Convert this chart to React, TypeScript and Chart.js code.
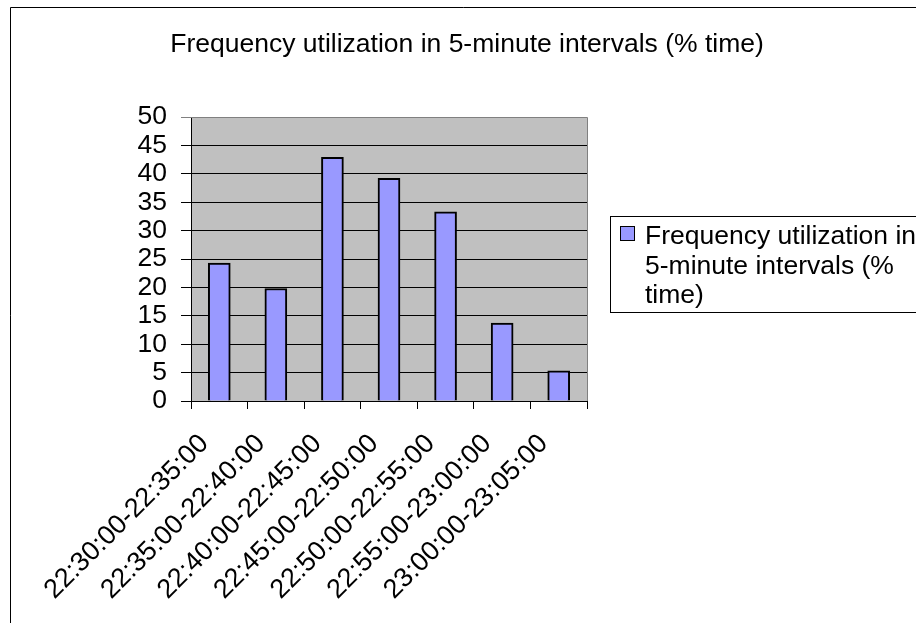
import React, { useEffect, useRef } from "react";
import { Chart, registerables } from "chart.js";

Chart.register(...registerables);

const TITLE = "Frequency utilization in 5-minute intervals (% time)";
const SERIES_LABEL = "Frequency utilization in 5-minute intervals (% time)";
const LEGEND_LINES = ["Frequency utilization in", "5-minute intervals (%", "time)"];
const CATEGORIES = [
  "22:30:00-22:35:00",
  "22:35:00-22:40:00",
  "22:40:00-22:45:00",
  "22:45:00-22:50:00",
  "22:50:00-22:55:00",
  "22:55:00-23:00:00",
  "23:00:00-23:05:00",
];
const VALUES = [24.3, 19.8, 42.9, 39.2, 33.3, 13.7, 5.3];
const Y_MIN = 0;
const Y_MAX = 50;
const Y_STEP = 5;

const FONT = "'Liberation Sans', Arial, sans-serif";
const BAR_COLOR = "#9999FF";

const decorPlugin = {
  id: "decor",
  beforeDraw(chart: any) {
    const { ctx, chartArea, width, height } = chart;
    ctx.save();
    ctx.fillStyle = "#ffffff";
    ctx.fillRect(0, 0, width, height);
    // outer border
    ctx.strokeStyle = "#000000";
    ctx.lineWidth = 1;
    ctx.beginPath();
    ctx.moveTo(10.5, height);
    ctx.lineTo(10.5, 7.5);
    ctx.lineTo(width, 7.5);
    ctx.stroke();
    // title
    ctx.fillStyle = "#000000";
    ctx.font = `26.5px ${FONT}`;
    ctx.textAlign = "center";
    ctx.textBaseline = "alphabetic";
    ctx.fillText(TITLE, 467, 52);
    // plot area
    ctx.fillStyle = "#C0C0C0";
    ctx.fillRect(chartArea.left, chartArea.top, chartArea.right - chartArea.left, chartArea.bottom - chartArea.top);
    ctx.restore();
  },
  afterDraw(chart: any) {
    const { ctx, chartArea } = chart;
    ctx.save();
    ctx.strokeStyle = "#808080";
    ctx.lineWidth = 1;
    ctx.beginPath();
    ctx.moveTo(chartArea.left, chartArea.top + 0.5);
    ctx.lineTo(chartArea.right + 0.5, chartArea.top + 0.5);
    ctx.lineTo(chartArea.right + 0.5, chartArea.bottom);
    ctx.stroke();
    // legend
    ctx.strokeStyle = "#000000";
    ctx.strokeRect(610.5, 216.5, 400, 96);
    ctx.fillStyle = BAR_COLOR;
    ctx.fillRect(620.5, 226.5, 14, 14);
    ctx.strokeRect(620.5, 226.5, 14, 14);
    ctx.fillStyle = "#000000";
    ctx.font = `26.5px ${FONT}`;
    ctx.textAlign = "left";
    ctx.textBaseline = "alphabetic";
    LEGEND_LINES.forEach((line, i) => {
      ctx.fillText(line, 645, 244 + i * 29.5);
    });
    ctx.restore();
  },
};

export default function App() {
  const ref = useRef<HTMLCanvasElement | null>(null);
  useEffect(() => {
    if (!ref.current) return;
    const chart = new Chart(ref.current, {
      type: "bar",
      data: {
        labels: CATEGORIES,
        datasets: [
          {
            label: SERIES_LABEL,
            data: VALUES,
            backgroundColor: BAR_COLOR,
            borderColor: "#000000",
            borderWidth: 2,
            barThickness: 22,
          },
        ],
      },
      options: {
        animation: false,
        responsive: false,
        devicePixelRatio: 1,
        layout: { padding: { top: 117, right: 329, left: 0, bottom: 0 } },
        plugins: {
          legend: { display: false },
          title: { display: false },
          tooltip: { enabled: false },
        },
        scales: {
          x: {
            afterFit(scale: any) {
              scale.height = 222;
            },
            grid: {
              offset: true,
              drawOnChartArea: false,
              drawTicks: true,
              tickLength: 8,
              color: "#000000",
            },
            border: { display: true, color: "#000000", width: 1 },
            ticks: {
              color: "#000000",
              font: { family: FONT, size: 27 },
              maxRotation: 45,
              minRotation: 45,
              autoSkip: false,
              padding: 19,
              labelOffset: -15,
            },
          },
          y: {
            min: Y_MIN,
            max: Y_MAX,
            afterFit(scale: any) {
              scale.width = 191;
            },
            grid: {
              color: (c: any) => (c.tick && c.tick.value === Y_MAX ? "#808080" : "#000000"),
              lineWidth: 1,
              drawTicks: true,
              tickLength: 10,
            },
            border: { display: true, color: "#000000", width: 1 },
            ticks: {
              stepSize: Y_STEP,
              autoSkip: false,
              color: "#000000",
              font: { family: FONT, size: 26.5 },
              padding: 14,
            },
          },
        },
      },
      plugins: [decorPlugin],
    });
    return () => chart.destroy();
  }, []);
  return (
    <div style={{ position: "absolute", left: 0, top: 0, width: 916, height: 623 }}>
      <canvas ref={ref} width={916} height={623} style={{ display: "block", width: 916, height: 623 }} />
    </div>
  );
}
